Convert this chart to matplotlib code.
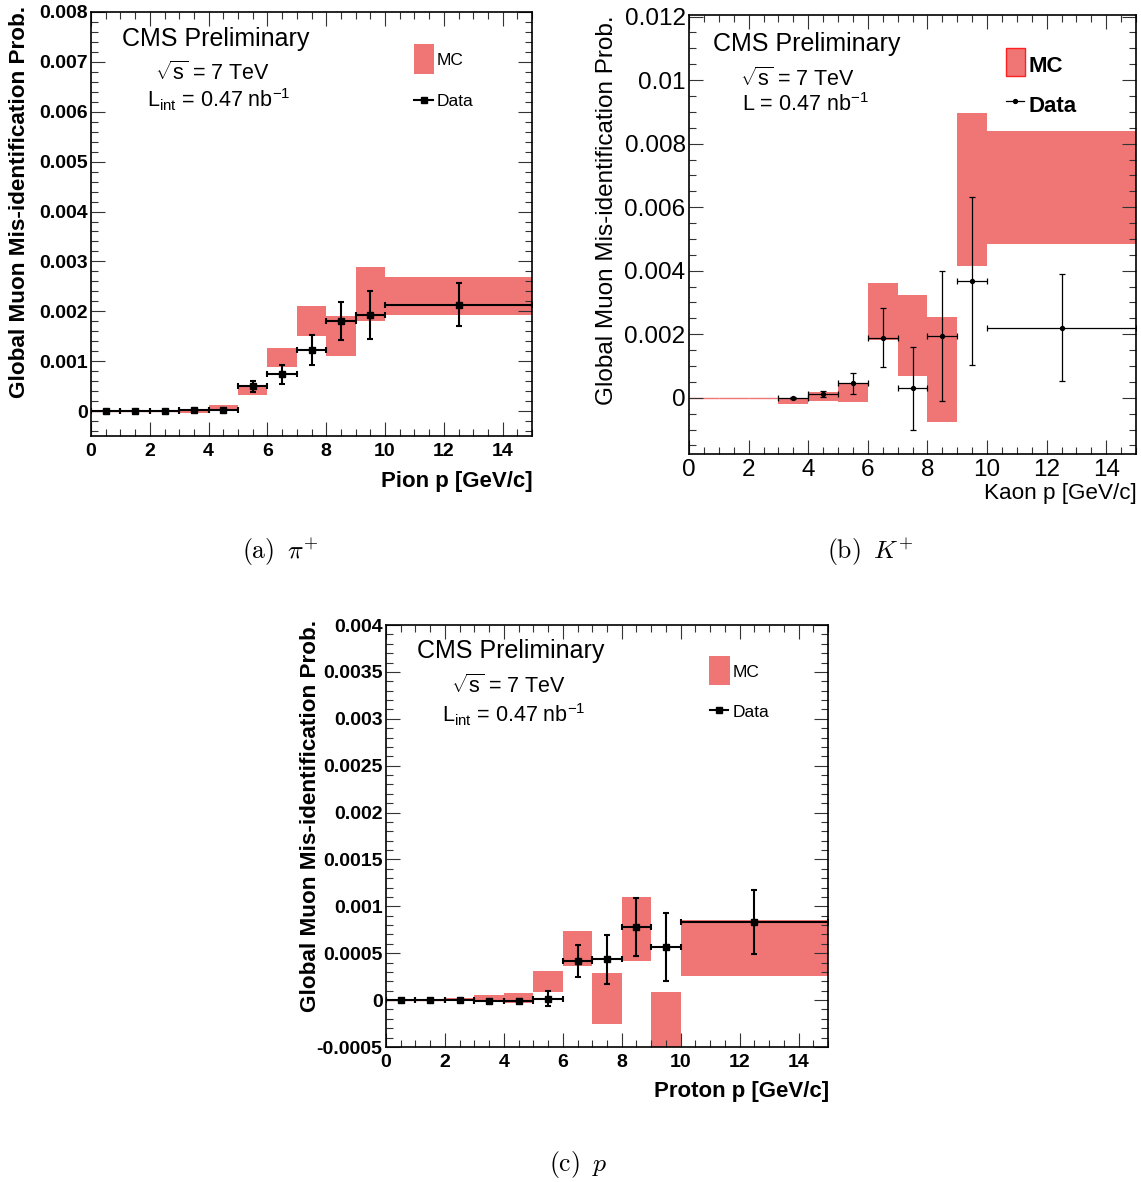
import numpy as np
import matplotlib
matplotlib.use("Agg")
import matplotlib.pyplot as plt
from matplotlib.ticker import MultipleLocator, FuncFormatter
from matplotlib.patches import Rectangle
from matplotlib.lines import Line2D

W, H = 1141, 1182
plt.rcParams['font.family'] = ['Liberation Sans', 'DejaVu Sans']
plt.rcParams['mathtext.fontset'] = 'custom'
plt.rcParams['mathtext.rm'] = 'Liberation Sans'
plt.rcParams['mathtext.it'] = 'Liberation Sans:italic'
plt.rcParams['mathtext.bf'] = 'Liberation Sans:bold'

MC_RED = '#F07676'

# momentum bins (GeV/c), same for the three particles
bin_lo = [0, 1, 2, 3, 4, 5, 6, 7, 8, 9, 10]
bin_hi = [1, 2, 3, 4, 5, 6, 7, 8, 9, 10, 15]

# pions: MC band (low/high edge) and data points
pi_mc_lo = [0, 0, 0, -0.00004, 0.00001, 0.00033, 0.00089, 0.00151, 0.00111, 0.00181, 0.00193]
pi_mc_hi = [0, 0, 0, 0.0, 0.000127, 0.00051, 0.00127, 0.00211, 0.00191, 0.00289, 0.00269]
pi_x = [0.5, 1.5, 2.5, 3.5, 4.5, 5.5, 6.5, 7.5, 8.5, 9.5, 12.5]
pi_y = [0.0, 0.0, 0.0, 0.00002, 0.00002, 0.0005, 0.00074, 0.00122, 0.0018, 0.00192, 0.00213]
pi_err = [0.0, 0.0, 0.0, 0.00001, 0.00002, 0.00011, 0.00019, 0.0003, 0.00038, 0.00048, 0.00043]

# kaons
k_mc_lo = [0, 0, 0, -0.00019, -0.00009, -0.00013, 0.00182, 0.00068, -0.00077, 0.00415, 0.00484]
k_mc_hi = [0, 0, 0, 0.0, 0.00019, 0.00047, 0.00361, 0.00323, 0.00254, 0.00898, 0.00839]
k_x = [3.5, 4.5, 5.5, 6.5, 7.5, 8.5, 9.5, 12.5]
k_y = [0.0, 0.000115, 0.00045, 0.00189, 0.0003, 0.00194, 0.00368, 0.00221]
k_err = [0.00003, 0.00009, 0.00032, 0.00093, 0.0013, 0.00204, 0.00264, 0.00169]

# protons
p_mc_lo = [0, 0, 0.0, -0.00002, -0.000028, 0.000082, 0.00036, -0.00025, 0.00042, -0.0006, 0.00026]
p_mc_hi = [0, 0, 0.00002, 0.000057, 0.000078, 0.000306, 0.00074, 0.00029, 0.0011, 0.000089, 0.00085]
p_x = [0.5, 1.5, 2.5, 3.5, 4.5, 5.5, 6.5, 7.5, 8.5, 9.5, 12.5]
p_y = [0.0, 0.0, 0.0, -0.00001, -0.00001, 0.000014, 0.000416, 0.000437, 0.00078, 0.000565, 0.000835]
p_err = [0.0, 0.0, 0.0, 0.00001, 0.00002, 0.00008, 0.00017, 0.00026, 0.00031, 0.00036, 0.00034]

ylabel = 'Global Muon Mis-identification Prob.'


def fx(x):
    return x / W


def fy(y):
    return 1 - y / H


fig = plt.figure(figsize=(W / 100, H / 100), dpi=100)


def make_axes(l, r, t, b):
    return fig.add_axes([fx(l), fy(b), (r - l) / W, (b - t) / H])


def draw_panel(ax, mc_lo, mc_hi, dx, dy, derr, ylim, ymaj, ymin, bold, big):
    lo = np.array(mc_lo)
    hi = np.array(mc_hi)
    e0 = np.array(bin_lo, dtype=float)
    e1 = np.array(bin_hi, dtype=float)
    has = hi > lo
    ax.bar(e0[has], (hi - lo)[has], width=(e1 - e0)[has], bottom=lo[has],
           align='edge', color=MC_RED, linewidth=0, zorder=1)
    for a, b_, v in zip(e0[~has], e1[~has], lo[~has]):
        ax.hlines(v, a, b_, color=MC_RED, lw=1.0, zorder=1)

    dx = np.array(dx)
    idx = np.searchsorted(e1, dx)
    xerr = [dx - e0[idx], e1[idx] - dx]
    if big:
        ax.errorbar(dx, dy, xerr=xerr, yerr=derr, fmt='s', color='black', ms=4.0,
                    elinewidth=1.5, capsize=2.0, capthick=1.5, zorder=3)
    else:
        ax.errorbar(dx, dy, xerr=xerr, yerr=derr, fmt='o', color='black', ms=2.8,
                    elinewidth=0.9, capsize=2.0, capthick=0.9, zorder=3)

    ax.set_xlim(0, 15)
    ax.set_ylim(*ylim)
    ax.xaxis.set_major_locator(MultipleLocator(2))
    ax.xaxis.set_minor_locator(MultipleLocator(0.5))
    ax.yaxis.set_major_locator(MultipleLocator(ymaj))
    ax.yaxis.set_minor_locator(MultipleLocator(ymin))
    fmt = FuncFormatter(lambda v, p: '%g' % round(v, 6))
    ax.xaxis.set_major_formatter(fmt)
    ax.yaxis.set_major_formatter(fmt)
    size = 14 if bold else 17.5
    ax.tick_params(which='both', direction='in', top=True, right=True, width=0.8,
                   color='#333333', labelsize=size)
    ax.tick_params(which='major', length=10)
    ax.tick_params(which='minor', length=5)
    ax.tick_params(axis='y', pad=2.5)
    ax.tick_params(axis='x', pad=5 if bold else 3.5)
    for s in ax.spines.values():
        s.set_linewidth(1.2)
    if bold:
        plt.setp(ax.get_xticklabels(), fontweight='bold')
        plt.setp(ax.get_yticklabels(), fontweight='bold')


def header(x_cms, y_cms, x_s, y_s, x_l, y_l, lumi, size_cms, size_s):
    fig.text(fx(x_cms), fy(y_cms), 'CMS Preliminary', fontsize=size_cms, va='baseline')
    fig.text(fx(x_s), fy(y_s), r'$\sqrt{\mathrm{s}}$ = 7 TeV', fontsize=size_s, va='baseline')
    fig.text(fx(x_l), fy(y_l), lumi, fontsize=size_s, va='baseline')


def legend(box, line_y, line_x0, line_x1, tx, mc_base, data_base, size, weight, edge, big):
    x0, x1, y0, y1 = box
    fig.add_artist(Rectangle((fx(x0), fy(y1)), (x1 - x0) / W, (y1 - y0) / H,
                             transform=fig.transFigure, facecolor=MC_RED,
                             edgecolor=edge, linewidth=1.0 if edge != 'none' else 0))
    fig.add_artist(Line2D([fx(line_x0), fx(line_x1)], [fy(line_y), fy(line_y)],
                          transform=fig.transFigure, color='black',
                          lw=1.5 if big else 0.9))
    fig.add_artist(Line2D([fx((line_x0 + line_x1) / 2)], [fy(line_y)],
                          transform=fig.transFigure, color='black',
                          marker='s' if big else 'o', ms=4.0 if big else 2.8, lw=0))
    fig.text(fx(tx), fy(mc_base), 'MC', fontsize=size, fontweight=weight, va='baseline')
    fig.text(fx(tx), fy(data_base), 'Data', fontsize=size, fontweight=weight, va='baseline')


lint = r'L$_{\mathrm{int}}$ = 0.47 nb$^{\mathrm{-1}}$'

# (a) pions
axa = make_axes(91, 532, 12, 436)
draw_panel(axa, pi_mc_lo, pi_mc_hi, pi_x, pi_y, pi_err, (-0.0005, 0.008),
           0.001, 0.0002, True, True)
fig.text(fx(20), fy(6), ylabel, rotation=90, ha='center', va='top',
         fontsize=16.2, fontweight='bold')
fig.text(fx(533), fy(481), 'Pion p [GeV/c]', ha='right', va='center',
         fontsize=16, fontweight='bold')
header(122, 46, 155, 80, 147, 107, lint, 18, 15.5)
legend((414, 434, 44, 74), 100, 414, 433, 437, 65, 106, 12.5, 'normal', 'none', True)

# (b) kaons
axb = make_axes(689, 1136, 15, 454)
draw_panel(axb, k_mc_lo, k_mc_hi, k_x, k_y, k_err, (-0.00177, 0.01205),
           0.002, 0.0005, False, False)
fig.text(fx(607), fy(15), ylabel, rotation=90, ha='center', va='top', fontsize=17.5)
fig.text(fx(1137), fy(493), 'Kaon p [GeV/c]', ha='right', va='center', fontsize=16.2)
header(713, 51, 740, 86, 742, 111, r'L = 0.47 nb$^{\mathrm{-1}}$', 18, 15.5)
legend((1006, 1025, 48, 76), 101, 1006, 1024, 1029, 72, 112, 16, 'bold', '#FF2020', False)

# (c) protons
axc = make_axes(386, 828, 625, 1047)
draw_panel(axc, p_mc_lo, p_mc_hi, p_x, p_y, p_err, (-0.0005, 0.004),
           0.0005, 0.0001, True, True)
fig.text(fx(311), fy(620), ylabel, rotation=90, ha='center', va='top',
         fontsize=16.2, fontweight='bold')
fig.text(fx(829), fy(1092), 'Proton p [GeV/c]', ha='right', va='center',
         fontsize=16, fontweight='bold')
header(417, 658, 451, 693, 442, 722, lint, 18, 15.5)
legend((709, 730, 656, 685), 710, 710, 728, 733, 677, 717, 12.5, 'normal', 'none', True)

# sub-figure captions
for x, y, s in [(280, 552, r'$\mathrm{(a)}\;\;\pi^{+}$'),
                (870, 552, r'$\mathrm{(b)}\;\;K^{+}$'),
                (578, 1164, r'$\mathrm{(c)}\;\;p$')]:
    t = fig.text(fx(x), fy(y), s, ha='center', va='center', fontsize=18.5)
    t.set_math_fontfamily('cm')

fig.savefig('out.png', dpi=100)
